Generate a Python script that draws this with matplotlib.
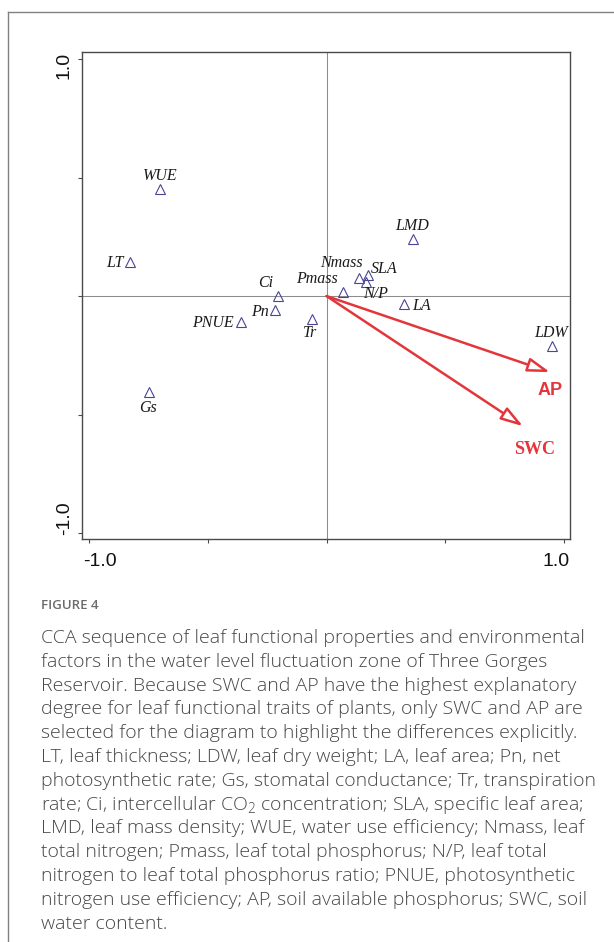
import matplotlib
matplotlib.use('Agg')
import matplotlib.pyplot as plt
from matplotlib.lines import Line2D
from matplotlib.patches import FancyArrowPatch, ArrowStyle

# ---------------- data ----------------
traits = ['WUE', 'LT', 'Ci', 'Pn', 'PNUE', 'Tr', 'Gs', 'Pmass', 'Nmass', 'SLA', 'N/P', 'LMD', 'LA', 'LDW']
trait_x = [-0.701, -0.827, -0.203, -0.217, -0.360, -0.062, -0.747, 0.067, 0.138, 0.176, 0.166, 0.365, 0.328, 0.948]
trait_y = [0.451, 0.142, 0.001, -0.059, -0.111, -0.097, -0.405, 0.018, 0.077, 0.089, 0.060, 0.239, -0.035, -0.211]

env_names = ['AP', 'SWC']
env_x = [0.941, 0.827]
env_y = [-0.321, -0.549]

tick_values = [-1.0, -0.5, 0.0, 0.5, 1.0]
tick_labels = ['-1.0', '', '', '', '1.0']

caption_title = 'FIGURE 4'
caption_lines = [
    'CCA sequence of leaf functional properties and environmental',
    'factors in the water level fluctuation zone of Three Gorges',
    'Reservoir. Because SWC and AP have the highest explanatory',
    'degree for leaf functional traits of plants, only SWC and AP are',
    'selected for the diagram to highlight the differences explicitly.',
    'LT, leaf thickness; LDW, leaf dry weight; LA, leaf area; Pn, net',
    'photosynthetic rate; Gs, stomatal conductance; Tr, transpiration',
    'rate; Ci, intercellular CO$_2$ concentration; SLA, specific leaf area;',
    'LMD, leaf mass density; WUE, water use efficiency; Nmass, leaf',
    'total nitrogen; Pmass, leaf total phosphorus; N/P, leaf total',
    'nitrogen to leaf total phosphorus ratio; PNUE, photosynthetic',
    'nitrogen use efficiency; AP, soil available phosphorus; SWC, soil',
    'water content.',
]

# ---------------- layout / style ----------------
W, H, DPI = 614, 942, 100
PT = 72.0 / DPI  # points per pixel

label_layout = {  # dx px, dy px (up), ha
    'WUE': (0, 13, 'center'),
    'LT': (-7, -1, 'right'),
    'Ci': (-13, 13, 'center'),
    'Pn': (-6, -2, 'right'),
    'PNUE': (-7, -1, 'right'),
    'Tr': (-2, -14, 'center'),
    'Gs': (-1, -16, 'center'),
    'Pmass': (-26, 13, 'center'),
    'Nmass': (-18, 15, 'center'),
    'SLA': (16, 6, 'center'),
    'N/P': (10, -12, 'center'),
    'LMD': (-1, 13, 'center'),
    'LA': (8, -2, 'left'),
    'LDW': (-1, 13, 'center'),
}
env_label_layout = {'AP': (0, -10), 'SWC': (12, -15)}
env_label_font = {'AP': 'Liberation Sans', 'SWC': 'Liberation Serif'}

RED = '#E3363B'
TRI = '#4A4596'
SPINE = '#4a4a4a'

plt.rcParams['mathtext.fontset'] = 'custom'
plt.rcParams['mathtext.default'] = 'regular'

fig = plt.figure(figsize=(W / DPI, H / DPI), dpi=DPI)
fig.patch.set_facecolor('white')

# outer frame (left and top edges)
fig.add_artist(Line2D([7.5 / W, 7.5 / W], [0, 1 - 11.5 / H], color='#808080', lw=1.0))
fig.add_artist(Line2D([7.5 / W, 1.0], [1 - 11.5 / H, 1 - 11.5 / H], color='#808080', lw=1.0))

ax_l, ax_r, ax_t, ax_b = 82, 570, 52, 539
ax = fig.add_axes([ax_l / W, 1 - ax_b / H, (ax_r - ax_l) / W, (ax_b - ax_t) / H])
ax.set_xlim(-1.03, 1.025)
ax.set_ylim(-1.025, 1.03)
for s in ax.spines.values():
    s.set_color(SPINE)
    s.set_linewidth(1.0)

ax.axhline(0, color='#8c8c8c', lw=0.75, zorder=1)
ax.axvline(0, color='#8c8c8c', lw=0.75, zorder=1)

ax.set_xticks(tick_values)
ax.set_yticks(tick_values)
ax.set_xticklabels([])
ax.set_yticklabels([])
ax.tick_params(direction='out', length=3, width=0.8, color=SPINE)

# tick labels placed manually (offsets as in reference)
xoff = {'-1.0': 11, '1.0': -8}
yoff = {'-1.0': 15, '1.0': -6}
for v, lab in zip(tick_values, tick_labels):
    if not lab:
        continue
    ax.annotate(lab, xy=(v, 0), xycoords=('data', 'axes fraction'),
                xytext=(xoff[lab] * PT, -14 * PT), textcoords='offset points',
                ha='center', va='top', fontsize=14, family='Liberation Sans', color='#111111')
    ax.annotate(lab, xy=(0, v), xycoords=('axes fraction', 'data'),
                xytext=(-17.5 * PT, yoff[lab] * PT), textcoords='offset points',
                ha='center', va='center', rotation=90, fontsize=14,
                family='Liberation Sans', color='#111111')

# trait points
ax.plot(trait_x, trait_y, linestyle='none', marker='^', markersize=7,
        markerfacecolor='none', markeredgecolor=TRI, markeredgewidth=0.8, zorder=3)
for name, x, y in zip(traits, trait_x, trait_y):
    dx, dy, ha = label_layout[name]
    ax.annotate(name, xy=(x, y), xytext=(dx * PT, dy * PT), textcoords='offset points',
                ha=ha, va='center', fontsize=11.5, family='Liberation Serif',
                style='italic', color='#1a1a1a', zorder=4)

# environmental arrows
style = ArrowStyle('-|>', head_length=1.35, head_width=0.42)
for name, x, y in zip(env_names, env_x, env_y):
    arr = FancyArrowPatch((0, 0), (x, y), arrowstyle=style, mutation_scale=10,
                          shrinkA=0, shrinkB=0, lw=1.8, ec=RED, fc='white', zorder=5)
    ax.add_patch(arr)
    dx, dy = env_label_layout[name]
    ax.annotate(name, xy=(x, y), xytext=(dx * PT, dy * PT), textcoords='offset points',
                ha='center', va='top', fontsize=13, fontweight='bold',
                family=env_label_font[name], color=RED, zorder=6)

# caption
cap_left = 41
fig.text(cap_left / W, 1 - 609 / H, caption_title, fontsize=9.5, fontweight='semibold',
         family='Open Sans', color='#6b6b6b', va='baseline', ha='left')

fig.canvas.draw()
renderer = fig.canvas.get_renderer()
probe = fig.text(0, 0, caption_lines[0], fontsize=12, family='Open Sans', fontweight='light')
wpx = probe.get_window_extent(renderer).width
probe.remove()
cap_size = 12 * 541.0 / wpx

base0, step = 643, 23.8
for i, line in enumerate(caption_lines):
    fig.text(cap_left / W, 1 - (base0 + i * step) / H, line, fontsize=cap_size,
             family='Open Sans', fontweight='light', color='#474747',
             va='baseline', ha='left')

fig.savefig('out.png', dpi=DPI, facecolor='white')
